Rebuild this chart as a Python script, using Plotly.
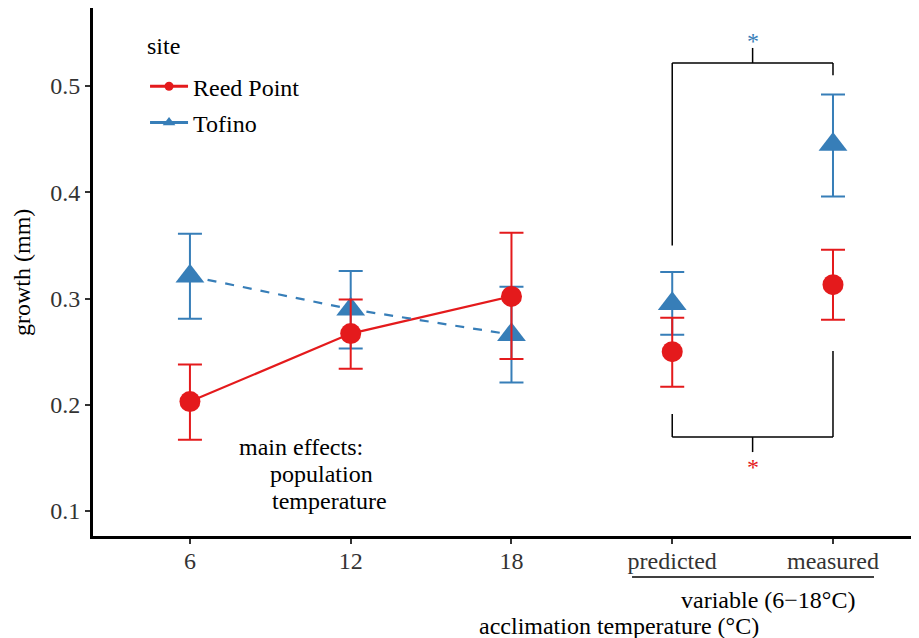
import plotly.graph_objects as go

# ---- data ----
categories = ["6", "12", "18", "predicted", "measured"]
positions = [1, 2, 3, 4, 5]

reed_mean = [0.203, 0.267, 0.302, 0.250, 0.313]
reed_upper = [0.238, 0.299, 0.362, 0.282, 0.346]
reed_lower = [0.167, 0.234, 0.243, 0.217, 0.280]

tofino_mean = [0.321, 0.290, 0.266, 0.295, 0.445]
tofino_upper = [0.361, 0.326, 0.311, 0.325, 0.492]
tofino_lower = [0.281, 0.253, 0.221, 0.266, 0.396]

y_ticks = [0.1, 0.2, 0.3, 0.4, 0.5]

RED = "#E41A1C"
BLUE = "#377EB8"
FONT = "Liberation Serif"
FS = 24

fig = go.Figure()

def err(mean, up, lo):
    return dict(type="data", symmetric=False,
                array=[u - m for u, m in zip(up, mean)],
                arrayminus=[m - l for m, l in zip(mean, lo)])

# connecting lines (acclimation temperatures only)
fig.add_trace(go.Scatter(x=positions[:3], y=reed_mean[:3], mode="lines",
                         line=dict(color=RED, width=2.2), showlegend=False))
fig.add_trace(go.Scatter(x=positions[:3], y=tofino_mean[:3], mode="lines",
                         line=dict(color=BLUE, width=2.2, dash="dash"), showlegend=False))

# points with error bars
fig.add_trace(go.Scatter(x=positions, y=tofino_mean, mode="markers",
                         marker=dict(symbol="triangle-up", size=25, color=BLUE),
                         error_y=dict(**err(tofino_mean, tofino_upper, tofino_lower),
                                      color=BLUE, thickness=2, width=12),
                         showlegend=False))
fig.add_trace(go.Scatter(x=positions, y=reed_mean, mode="markers",
                         marker=dict(symbol="circle", size=21, color=RED),
                         error_y=dict(**err(reed_mean, reed_upper, reed_lower),
                                      color=RED, thickness=2, width=12),
                         showlegend=False))

# legend entries
fig.add_trace(go.Scatter(x=[None], y=[None], mode="lines+markers", name="Reed Point",
                         legendgroup="a",
                         line=dict(color=RED, width=3),
                         marker=dict(symbol="circle", size=9, color=RED)))
fig.add_trace(go.Scatter(x=[None], y=[None], mode="lines+markers", name="Tofino",
                         legendgroup="b",
                         line=dict(color=BLUE, width=3),
                         marker=dict(symbol="triangle-up", size=11, color=BLUE)))

# brackets
line_k = dict(color="black", width=1.5)
shapes = [
    # top bracket
    dict(type="line", xref="x", yref="y", x0=4, x1=4, y0=0.350, y1=0.5217, line=line_k),
    dict(type="line", xref="x", yref="y", x0=4, x1=5, y0=0.5217, y1=0.5217, line=line_k),
    dict(type="line", xref="x", yref="y", x0=5, x1=5, y0=0.5217, y1=0.510, line=line_k),
    dict(type="line", xref="x", yref="y", x0=4.5, x1=4.5, y0=0.5217, y1=0.5358, line=line_k),
    # bottom bracket
    dict(type="line", xref="x", yref="y", x0=4, x1=4, y0=0.1913, y1=0.1696, line=line_k),
    dict(type="line", xref="x", yref="y", x0=4, x1=5, y0=0.1696, y1=0.1696, line=line_k),
    dict(type="line", xref="x", yref="y", x0=5, x1=5, y0=0.1696, y1=0.2506, line=line_k),
    dict(type="line", xref="x", yref="y", x0=4.5, x1=4.5, y0=0.1696, y1=0.1555, line=line_k),
    # underline for variable group
    dict(type="line", xref="x", yref="paper", x0=3.75, x1=5.255, y0=-0.0777, y1=-0.0777,
         line=dict(color="black", width=1.5)),
]

def ann(x, y, text, xref="x", yref="y", color="black", xanchor="center", **kw):
    return dict(x=x, y=y, xref=xref, yref=yref, text=text, showarrow=False,
                xanchor=xanchor, yanchor="middle",
                font=dict(family=FONT, size=FS, color=color), **kw)

annotations = [
    ann(4.5, 0.542, "*", color=BLUE),
    ann(4.5, 0.141, "*", color=RED),
    ann(1.29, 0.160, "main effects:", xanchor="left"),
    ann(1.487, 0.1345, "population", xanchor="left"),
    ann(1.50, 0.109, "temperature", xanchor="left"),
    ann(4.596, -0.121, "variable (6\u221218°C)", yref="paper"),
    ann(3.669, -0.170, "acclimation temperature (°C)", yref="paper"),
    ann(-0.086, 0.5, "growth (mm)", xref="paper", yref="paper", textangle=-90),
    ann(0.063, 0.928, "site", xref="paper", yref="paper", xanchor="left"),
]

fig.update_layout(
    width=911, height=630,
    margin=dict(l=85, r=0, t=0, b=102),
    plot_bgcolor="white", paper_bgcolor="white",
    font=dict(family=FONT, size=FS, color="black"),
    shapes=shapes, annotations=annotations,
    legend=dict(x=0.063, y=0.8936, xanchor="left", yanchor="top",
                font=dict(family=FONT, size=FS), bgcolor="rgba(0,0,0,0)",
                tracegroupgap=2, itemwidth=38),
    xaxis=dict(range=[0.397, 5.535], tickmode="array", tickvals=positions,
               ticktext=categories, showgrid=False, zeroline=False,
               showline=True, linecolor="black", linewidth=3,
               ticks="outside", ticklen=5, tickwidth=1.5, tickcolor="#333333",
               ticklabelstandoff=-4,
               tickfont=dict(family=FONT, size=FS, color="#333333")),
    yaxis=dict(range=[0.0765, 0.5734], tickmode="array", tickvals=y_ticks,
               ticktext=[f"{v:.1f}" for v in y_ticks], showgrid=False, zeroline=False,
               showline=True, linecolor="black", linewidth=3,
               ticks="outside", ticklen=5, tickwidth=1.5, tickcolor="#333333",
               tickfont=dict(family=FONT, size=FS, color="#333333")),
)

fig.write_html("out.html")
